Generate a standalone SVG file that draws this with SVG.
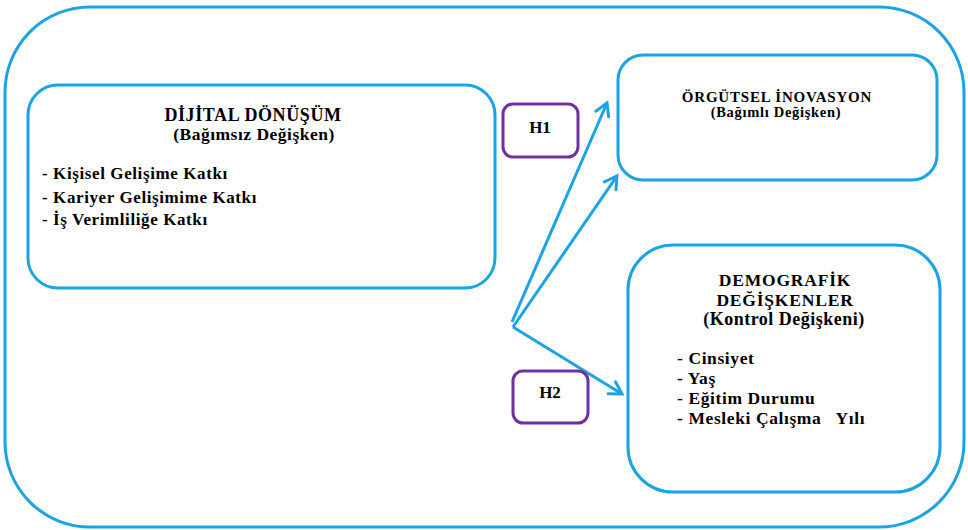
<svg xmlns="http://www.w3.org/2000/svg" width="968" height="530" viewBox="0 0 968 530">
  <defs>
    <style>
      .box { fill: none; stroke: #1BA3E3; stroke-width: 3; }
      .hbox { fill: none; stroke: #7030A0; stroke-width: 3; }
      .conn { fill: none; stroke: #1BA3E3; stroke-width: 3; }
      text { font-family: "Liberation Serif", "Times New Roman", serif; font-weight: bold; fill: #000000; }
      .mid { text-anchor: middle; }
    </style>
    <marker id="arr" markerUnits="userSpaceOnUse" markerWidth="18" markerHeight="18" refX="15" refY="9" orient="auto">
      <path d="M3,2 L15,9 L3,16" fill="none" stroke="#1BA3E3" stroke-width="3" stroke-linecap="round"/>
    </marker>
  </defs>
  <rect width="968" height="530" fill="#ffffff"/>

  <g id="frame">
    <rect x="5" y="7" width="959" height="520" rx="85" ry="85" class="box"/>
  </g>

  <g id="connectors">
    <line x1="512" y1="322" x2="607" y2="103" class="conn" marker-end="url(#arr)"/>
    <line x1="513" y1="327" x2="617" y2="176" class="conn" marker-end="url(#arr)"/>
    <line x1="513" y1="327" x2="622" y2="394" class="conn" marker-end="url(#arr)"/>
  </g>

  <g id="dijital">
    <rect x="28" y="85" width="467" height="203" rx="30" ry="30" class="box"/>
    <text x="253" y="121" class="mid" font-size="18" letter-spacing="0.6">DİJİTAL DÖNÜŞÜM</text>
    <text x="254" y="140" class="mid" font-size="17.5" letter-spacing="0.5">(Bağımsız Değişken)</text>
    <text x="42" y="179" font-size="17" letter-spacing="0.6">- Kişisel Gelişime Katkı</text>
    <text x="42" y="203" font-size="17" letter-spacing="0.6">- Kariyer Gelişimime Katkı</text>
    <text x="42" y="225" font-size="17" letter-spacing="0.6">- İş Verimliliğe Katkı</text>
  </g>

  <g id="h1">
    <rect x="503" y="104" width="75" height="53" rx="10" ry="10" class="hbox"/>
    <text x="540" y="133" class="mid" font-size="17">H1</text>
  </g>

  <g id="orgutsel">
    <rect x="618" y="55" width="319" height="125" rx="25" ry="25" class="box"/>
    <text x="777" y="102" class="mid" font-size="15" letter-spacing="0.8">ÖRGÜTSEL İNOVASYON</text>
    <text x="776" y="117" class="mid" font-size="14.5" letter-spacing="0.7">(Bağımlı Değişken)</text>
  </g>

  <g id="h2">
    <rect x="513" y="371" width="75" height="52" rx="10" ry="10" class="hbox"/>
    <text x="550" y="398" class="mid" font-size="17">H2</text>
  </g>

  <g id="demografik">
    <rect x="628" y="245" width="312" height="247" rx="45" ry="45" class="box"/>
    <text x="785" y="286" class="mid" font-size="17.5" letter-spacing="0.8">DEMOGRAFİK</text>
    <text x="785" y="306" class="mid" font-size="17.5" letter-spacing="0.8">DEĞİŞKENLER</text>
    <text x="784" y="325" class="mid" font-size="18" letter-spacing="0.5">(Kontrol Değişkeni)</text>
    <text x="677" y="364" font-size="17.5" letter-spacing="0.6">- Cinsiyet</text>
    <text x="677" y="384" font-size="17.5" letter-spacing="0.6">- Yaş</text>
    <text x="677" y="404" font-size="17.5" letter-spacing="0.6">- Eğitim Durumu</text>
    <text x="677" y="424" font-size="17.5" letter-spacing="0.6" xml:space="preserve">- Mesleki Çalışma   Yılı</text>
  </g>
</svg>
